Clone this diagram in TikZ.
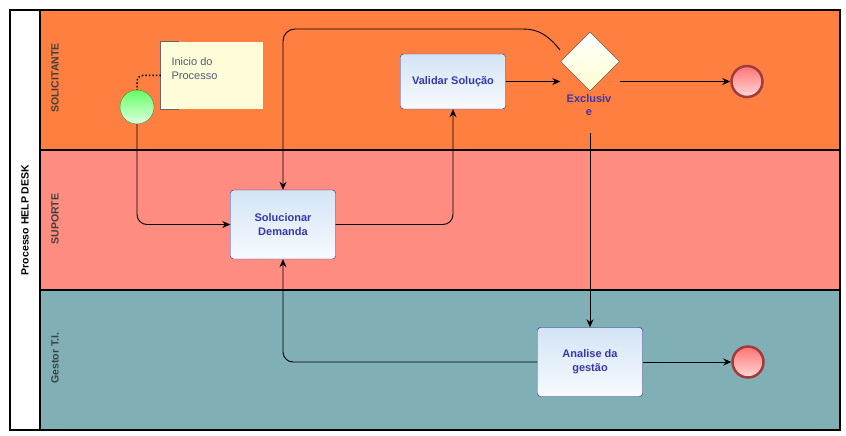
\documentclass[tikz,border=0pt]{standalone}
\usepackage{fontspec}
\setmainfont{Liberation Sans}
\usetikzlibrary{shapes.geometric, arrows.meta, positioning, calc}
\definecolor{solicitante}{HTML}{FF7F40}
\definecolor{suporte}{HTML}{FF8C80}
\definecolor{gestor}{HTML}{80B0B5}
\definecolor{tasktext}{HTML}{3838A8}
\definecolor{taskborder}{HTML}{1E1E78}
\definecolor{tasktop}{HTML}{D3E4F5}
\definecolor{taskbottom}{HTML}{F8FAFF}
\definecolor{notefill}{HTML}{FFFCDA}
\definecolor{notetext}{HTML}{4E5E72}
\definecolor{startborder}{HTML}{3C8C3C}
\definecolor{endborder}{HTML}{A03C3C}

\begin{document}
\begin{tikzpicture}[x=1pt, y=-1pt,
  pool/.style={rectangle, draw=black, line width=1.2pt, fill=white, minimum width=830pt, minimum height=420pt},
  lane/.style={rectangle, draw=black, line width=1.5pt, minimum width=800pt, minimum height=140pt},
  lanelabel/.style={rotate=90, font=\fontsize{10.5}{12}\selectfont\bfseries, text=black!75},
  task/.style={rectangle, rounded corners=3pt, draw=taskborder, top color=tasktop, bottom color=taskbottom, text=tasktext, font=\fontsize{11}{14}\selectfont\bfseries, align=center, minimum width=105pt, minimum height=69pt},
  gateway/.style={diamond, draw=black!75, top color=white, bottom color=yellow!18, minimum width=59pt, minimum height=59pt, inner sep=0pt},
  startevent/.style={circle, draw=startborder, top color=green!60, bottom color=green!12, minimum size=34pt, inner sep=0pt},
  endevent/.style={circle, draw=endborder, line width=2.5pt, top color=red!55, bottom color=red!15, minimum size=31pt, inner sep=0pt},
  note/.style={rectangle, fill=notefill, minimum width=102pt, minimum height=67pt},
  flow/.style={-{Stealth[length=8pt, width=7pt]}, draw=black, line width=0.9pt}
]
  \useasboundingbox (0,0) rectangle (846,436);

  % Pool and lanes
  \node[pool] (pool) at (425,220) {};
  \node[lane, fill=solicitante] (lsol) at (440,80) {};
  \node[lane, fill=suporte] (lsup) at (440,220) {};
  \node[lane, fill=gestor] (lges) at (440,360) {};
  \node[lanelabel, text=black] (tpool) at (25,220) {Processo HELP DESK};
  \node[lanelabel] (tsol) at (55,78) {SOLICITANTE};
  \node[lanelabel] (tsup) at (55,219) {SUPORTE};
  \node[lanelabel] (tges) at (55,358) {Gestor T.I.};

  % Annotation
  \node[note] (note) at (212,75.5) {};
  \draw[black!60, line width=1pt] ($(note.north west)+(18,0)$) -- (note.north west) -- (note.south west) -- ++(18,0);
  \node[anchor=west, align=left, text=notetext, font=\fontsize{11}{14}\selectfont] (notetxt) at (168,69) {Inicio do\\Processo};

  % Events, tasks and gateway
  \node[startevent] (start) at (137,107) {};
  \node[task] (sol) at (283,224.5) {Solucionar\\Demanda};
  \node[task, minimum height=55pt] (val) at (453,81.5) {Validar Solução};
  \node[gateway] (gw) at (590,61.5) {};
  \node[text=tasktext, font=\fontsize{11}{13}\selectfont\bfseries, align=center] (gwlabel) at (589,105.5) {Exclusiv\\e};
  \node[task] (ana) at (590,362) {Analise da\\gestão};
  \node[endevent] (end1) at (747,81.5) {};
  \node[endevent] (end2) at (748,362) {};
  \coordinate (gwout) at (590,133);
  \coordinate (gwback) at (560,50);

  % Association
  \draw[dotted, line width=1.5pt, rounded corners=6pt] (note.west) -| (start.north);

  % Sequence flows
  \draw[flow, rounded corners=10pt] (start.south) |- (sol.west);
  \draw[flow, rounded corners=10pt] (sol.east) -| (val.south);
  \draw[flow] (val.east) -- (val.east -| gw.west);
  \draw[flow] (gw.east |- end1.west) -- (end1.west);
  \draw[flow] (gwout) -- (ana.north);
  \draw[flow] (ana.east) -- (end2.west);
  \draw[flow, rounded corners=10pt] (ana.west) -| (sol.south);
  \draw[flow] (gwback) .. controls (548,35) and (538,29) .. (523,29) [rounded corners=12pt] -| (sol.north);
\end{tikzpicture}
\end{document}
